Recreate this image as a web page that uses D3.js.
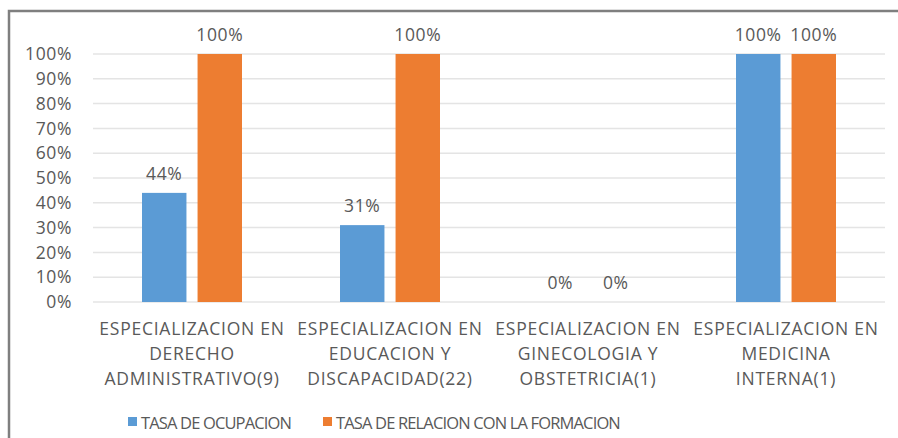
<!DOCTYPE html>
<html><head><meta charset="utf-8">
<script src="https://cdn.jsdelivr.net/npm/d3@7"></script>
<style>body{margin:0;background:#fff;} text{font-family:"Open Sans","Liberation Sans",sans-serif;}</style>
</head><body>
<svg id="c" width="898" height="438"></svg>
<script>
const categories = [
  ["ESPECIALIZACION EN","DERECHO","ADMINISTRATIVO(9)"],
  ["ESPECIALIZACION EN","EDUCACION Y","DISCAPACIDAD(22)"],
  ["ESPECIALIZACION EN","GINECOLOGIA Y","OBSTETRICIA(1)"],
  ["ESPECIALIZACION EN","MEDICINA","INTERNA(1)"]
];
const seriesNames = ["TASA DE OCUPACION","TASA DE RELACION CON LA FORMACION"];
const ocupacion = [0.44, 0.31, 0, 1];
const relacion = [1, 1, 0, 1];
const yTicks = [0,0.1,0.2,0.3,0.4,0.5,0.6,0.7,0.8,0.9,1];
const colors = ["#5b9bd5","#ed7d31"];

const svg = d3.select("#c");
const textCol = "#595959";
// border
svg.append("path").attr("d","M9,438 L9,11 L898,11").attr("fill","none").attr("stroke","#7f7f7f").attr("stroke-width",2.5);

const pLeft=93, pRight=885, pTop=54, pBottom=302;
const x = d3.scaleBand().domain(d3.range(categories.length)).range([pLeft,pRight]);
const x1 = d3.scaleBand().domain([0,1]).range([x.bandwidth()/2-50, x.bandwidth()/2+50]).paddingInner(0.2).paddingOuter(0);
const y = d3.scaleLinear().domain([0,1]).range([pBottom,pTop]);

// gridlines
svg.append("g").selectAll("line").data(yTicks).join("line")
  .attr("x1",pLeft).attr("x2",pRight).attr("y1",d=>y(d)).attr("y2",d=>y(d))
  .attr("stroke","#e4e4e4").attr("stroke-width",1.5);

// y axis labels
const yAxis = d3.axisLeft(y).tickValues(yTicks).tickFormat(d3.format(".0%")).tickSize(0).tickPadding(0);
const ga = svg.append("g").attr("transform","translate(72,0)").call(yAxis);
ga.select(".domain").remove();
ga.selectAll("text").attr("fill",textCol).style("font-size","17.5px").style("letter-spacing","0.6px")
  .style("font-family","'Open Sans','Liberation Sans',sans-serif");

const data = [ocupacion, relacion];
const groups = svg.append("g").selectAll("g").data(categories.map((c,i)=>i)).join("g")
  .attr("transform",i=>`translate(${x(i)},0)`);
groups.selectAll("rect").data(i=>[0,1].map(s=>({s, v:data[s][i]}))).join("rect")
  .attr("x",d=>x1(d.s)).attr("width",x1.bandwidth())
  .attr("y",d=>y(d.v)).attr("height",d=>y(0)-y(d.v))
  .attr("fill",d=>colors[d.s]);
groups.selectAll("text.v").data(i=>[0,1].map(s=>({s, v:data[s][i]}))).join("text")
  .attr("class","v")
  .attr("x",d=>x1(d.s)+x1.bandwidth()/2).attr("y",d=>y(d.v)-20)
  .attr("text-anchor","middle").attr("dominant-baseline","central")
  .attr("fill",textCol).style("font-size","17.5px").style("letter-spacing","0.6px")
  .text(d=>d3.format(".0%")(d.v));

// category labels
groups.each(function(i){
  const g=d3.select(this);
  categories[i].forEach((line,k)=>{
    g.append("text").attr("x",x.bandwidth()/2).attr("y",328+k*25)
     .attr("text-anchor","middle").attr("dominant-baseline","central")
     .attr("fill",textCol).style("font-size","17.5px").style("letter-spacing","0.75px").text(line);
  });
});

// legend
const legX = [128, 323];
seriesNames.forEach((n,i)=>{
  svg.append("rect").attr("x",legX[i]).attr("y",417).attr("width",9).attr("height",9).attr("fill",colors[i]);
  svg.append("text").attr("x",legX[i]+13).attr("y",422).attr("dominant-baseline","central")
    .attr("fill",textCol).style("font-size","16.5px").style("letter-spacing","-0.85px").text(n);
});
</script>
</body></html>
